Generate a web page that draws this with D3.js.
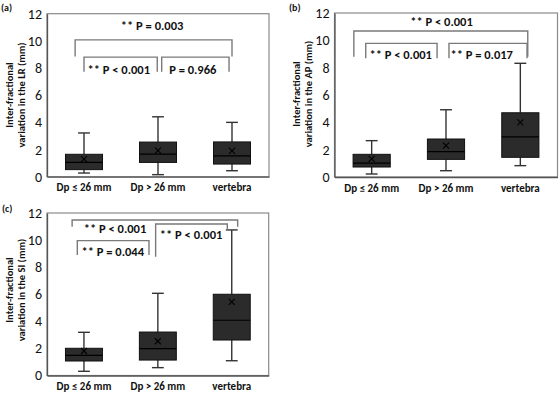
<!DOCTYPE html>
<html>
<head>
<meta charset="utf-8">
<script src="https://cdn.jsdelivr.net/npm/d3@7"></script>
<style>
  html, body { margin: 0; padding: 0; background: #fff; }
  svg text { font-family: Carlito, Calibri, Lato, sans-serif; }
</style>
</head>
<body>
<svg id="chart" width="560" height="393"></svg>
<script>
// ---------- data ----------
const categories = ["Dp ≤ 26 mm", "Dp > 26 mm", "vertebra"];
const yTicks = [0, 2, 4, 6, 8, 10, 12];

// LR
const lrLow    = [0.27, 0.15, 0.44];
const lrQ1     = [0.52, 1.05, 0.93];
const lrMedian = [1.06, 1.66, 1.54];
const lrQ3     = [1.65, 2.55, 2.56];
const lrHigh   = [3.22, 4.41, 4.00];
const lrMean   = [1.29, 1.92, 1.90];
const lrPLabels = ["** P = 0.003", "** P < 0.001", "P = 0.966"];

// AP
const apLow    = [0.22, 0.46, 0.83];
const apQ1     = [0.73, 1.29, 1.44];
const apMedian = [1.02, 1.85, 2.93];
const apQ3     = [1.66, 2.78, 4.70];
const apHigh   = [2.66, 4.92, 8.32];
const apMean   = [1.32, 2.29, 4.00];
const apPLabels = ["** P < 0.001", "** P < 0.001", "** P = 0.017"];

// SI
const siLow    = [0.31, 0.58, 1.09];
const siQ1     = [1.07, 1.14, 2.62];
const siMedian = [1.49, 1.98, 4.08];
const siQ3     = [2.01, 3.21, 6.00];
const siHigh   = [3.19, 6.07, 10.75];
const siMean   = [1.81, 2.53, 5.43];
const siPLabels = ["** P < 0.001", "** P = 0.044", "** P < 0.001"];

// ---------- layout ----------
const panels = [
  { tag: "(a)", tagX: 1, tagY: 7, left: 47, right: 269, top: 13.7, bottom: 176.7, titleX: 9,
    titleY: 95, title: ["Inter-fractional", "variation in the LR (mm)"],
    low: lrLow, q1: lrQ1, med: lrMedian, q3: lrQ3, high: lrHigh, mean: lrMean, labels: lrPLabels,
    brackets: [
      { x1: -0.12, x2: 2.0, top: 10.07, bl: 8.85, br: 8.85, tx: 0.92, ty: 11.1 },
      { x1: 0.0, x2: 0.99, top: 8.8, bl: 7.72, br: 7.72, tx: 0.47, ty: 7.9 },
      { x1: 1.05, x2: 1.96, top: 8.8, bl: 7.72, br: 7.72, tx: 1.47, ty: 7.9 }
    ] },
  { tag: "(b)", tagX: 289, tagY: 7, left: 334.5, right: 557.5, top: 13, bottom: 177, titleX: 296,
    titleY: 94, title: ["Inter-fractional", "variation in the AP (mm)"],
    low: apLow, q1: apQ1, med: apMedian, q3: apQ3, high: apHigh, mean: apMean, labels: apPLabels,
    brackets: [
      { x1: -0.24, x2: 2.1, top: 10.68, bl: 8.8, br: 8.8, tx: 0.94, ty: 11.36 },
      { x1: -0.08, x2: 0.88, top: 9.78, bl: 8.68, br: 8.68, tx: 0.39, ty: 8.98 },
      { x1: 1.04, x2: 2.09, top: 9.78, bl: 8.68, br: 8.68, tx: 1.48, ty: 8.98 }
    ] },
  { tag: "(c)", tagX: 2, tagY: 208, left: 47, right: 268.7, top: 213, bottom: 375.5, titleX: 9,
    titleY: 290, title: ["Inter-fractional", "variation in the SI (mm)"],
    low: siLow, q1: siQ1, med: siMedian, q3: siQ3, high: siHigh, mean: siMean, labels: siPLabels,
    brackets: [
      { x1: -0.16, x2: 2.08, top: 11.48, bl: 10.99, br: 10.99, tx: 0.42, ty: 10.87 },
      { x1: -0.09, x2: 0.88, top: 9.96, bl: 8.9, br: 8.9, tx: 0.39, ty: 9.14 },
      { x1: 0.97, x2: 1.94, top: 11.19, bl: 8.77, br: 10.75, tx: 1.45, ty: 10.43 }
    ] }
];

const svg = d3.select("#chart");

panels.forEach(p => {
  const g = svg.append("g");
  const x = d3.scaleBand().domain(categories).range([p.left, p.right]).padding(0);
  const xc = d3.scaleLinear().domain([-0.5, 2.5]).range([p.left, p.right]);
  const y = d3.scaleLinear().domain([0, 12]).range([p.bottom, p.top]);
  const bw = x.bandwidth() * 0.5;
  const capW = x.bandwidth() * 0.16;
  const cx = c => x(c) + x.bandwidth() / 2;

  // frame
  g.append("rect").attr("x", p.left).attr("y", p.top)
    .attr("width", p.right - p.left).attr("height", p.bottom - p.top)
    .attr("fill", "none").attr("stroke", "#8a8a8a").attr("stroke-width", 1.2);

  // y axis
  const yAxis = d3.axisLeft(y).tickValues(yTicks).tickSize(0).tickPadding(5);
  const ya = g.append("g").attr("transform", `translate(${p.left},0)`).call(yAxis);
  ya.select(".domain").attr("stroke", "#555").attr("stroke-width", 1.3);
  ya.selectAll("text").attr("font-size", 14).attr("fill", "#111")
    .style("font-family", "Carlito, Calibri, Lato, sans-serif");

  // x axis
  const xAxis = d3.axisBottom(x).tickSize(0).tickPadding(7);
  const xa = g.append("g").attr("transform", `translate(0,${p.bottom})`).call(xAxis);
  xa.select(".domain").attr("stroke", "#555").attr("stroke-width", 1.3);
  xa.selectAll("text").attr("font-size", 11).attr("font-weight", "bold").attr("fill", "#111")
    .style("font-family", "Carlito, Calibri, Lato, sans-serif");

  // whiskers
  categories.forEach((c, i) => {
    const xm = cx(c);
    g.append("line").attr("x1", xm).attr("x2", xm).attr("y1", y(p.high[i])).attr("y2", y(p.q3[i]))
      .attr("stroke", "#333").attr("stroke-width", 1.4);
    g.append("line").attr("x1", xm).attr("x2", xm).attr("y1", y(p.q1[i])).attr("y2", y(p.low[i]))
      .attr("stroke", "#333").attr("stroke-width", 1.4);
    g.append("line").attr("x1", xm - capW / 2).attr("x2", xm + capW / 2)
      .attr("y1", y(p.high[i])).attr("y2", y(p.high[i])).attr("stroke", "#333").attr("stroke-width", 1.4);
    g.append("line").attr("x1", xm - capW / 2).attr("x2", xm + capW / 2)
      .attr("y1", y(p.low[i])).attr("y2", y(p.low[i])).attr("stroke", "#333").attr("stroke-width", 1.4);
    // box
    g.append("rect").attr("x", xm - bw / 2).attr("width", bw)
      .attr("y", y(p.q3[i])).attr("height", y(p.q1[i]) - y(p.q3[i]))
      .attr("fill", "#2b2b2b").attr("stroke", "#111").attr("stroke-width", 1);
    // median
    g.append("line").attr("x1", xm - bw / 2).attr("x2", xm + bw / 2)
      .attr("y1", y(p.med[i])).attr("y2", y(p.med[i])).attr("stroke", "#000").attr("stroke-width", 1.2);
    // mean marker
    const ym = y(p.mean[i]), s = 3;
    g.append("path").attr("d", `M${xm - s},${ym - s}L${xm + s},${ym + s}M${xm - s},${ym + s}L${xm + s},${ym - s}`)
      .attr("stroke", "#000").attr("stroke-width", 1.1);
  });

  // brackets
  p.brackets.forEach((b, i) => {
    g.append("path")
      .attr("d", `M${xc(b.x1)},${y(b.bl)}V${y(b.top)}H${xc(b.x2)}V${y(b.br)}`)
      .attr("fill", "none").attr("stroke", "#7a7a7a").attr("stroke-width", 1.4);
    g.append("text").attr("x", xc(b.tx)).attr("y", y(b.ty)).attr("dy", "0.35em")
      .attr("text-anchor", "middle").attr("font-size", 12.5).attr("font-weight", "bold")
      .attr("fill", "#111").text(p.labels[i]);
  });

  // y title
  const t = g.append("text").attr("transform", `translate(${p.titleX},${p.titleY}) rotate(-90)`)
    .attr("text-anchor", "middle").attr("font-size", 10.5).attr("font-weight", "bold").attr("fill", "#111");
  p.title.forEach((line, k) => {
    t.append("tspan").attr("x", 0).attr("dy", k === 0 ? "0.35em" : "1.15em").text(line);
  });

  // panel tag
  g.append("text").attr("x", p.tagX).attr("y", p.tagY).attr("dy", "0.35em")
    .attr("font-size", 10).attr("font-weight", "bold").attr("fill", "#111").text(p.tag);
});
</script>
</body>
</html>
